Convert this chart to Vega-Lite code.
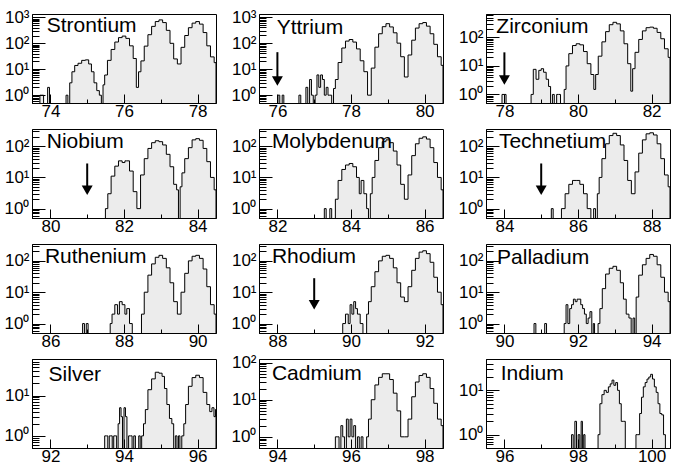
{
"$schema": "https://vega.github.io/schema/vega-lite/v6.json",
"padding": {"left": 3, "top": 5, "right": 0, "bottom": 0},
"data": {"values": [
{"e":"Sr","k":"d","x":73.5,"y":1350},{"e":"Sr","k":"d","x":78.5,"y":1350},
{"e":"Y","k":"d","x":75.5,"y":1320},{"e":"Y","k":"d","x":80.5,"y":1320},
{"e":"Zr","k":"d","x":77.5,"y":665},{"e":"Zr","k":"d","x":82.5,"y":665},
{"e":"Nb","k":"d","x":79.5,"y":357},{"e":"Nb","k":"d","x":84.5,"y":357},
{"e":"Mo","k":"d","x":81.5,"y":357},{"e":"Mo","k":"d","x":86.5,"y":357},
{"e":"Tc","k":"d","x":83.5,"y":357},{"e":"Tc","k":"d","x":88.5,"y":357},
{"e":"Ru","k":"d","x":85.5,"y":345},{"e":"Ru","k":"d","x":90.5,"y":345},
{"e":"Rh","k":"d","x":87.5,"y":345},{"e":"Rh","k":"d","x":92.5,"y":345},
{"e":"Pd","k":"d","x":89.5,"y":345},{"e":"Pd","k":"d","x":94.5,"y":345},
{"e":"Ag","k":"d","x":91.5,"y":81},{"e":"Ag","k":"d","x":96.5,"y":81},
{"e":"Cd","k":"d","x":93.5,"y":125},{"e":"Cd","k":"d","x":98.5,"y":125},
{"e":"In","k":"d","x":95.5,"y":51},{"e":"In","k":"d","x":100.5,"y":51},
{"e":"Sr","k":"t","x":73.9,"y":268,"n":"Strontium"},
{"e":"Y","k":"t","x":75.98,"y":234,"n":"Yttrium"},
{"e":"Zr","k":"t","x":77.78,"y":148,"n":"Zirconium"},
{"e":"Nb","k":"t","x":79.9,"y":91,"n":"Niobium"},
{"e":"Mo","k":"t","x":81.85,"y":91,"n":"Molybdenum"},
{"e":"Tc","k":"t","x":83.85,"y":91,"n":"Technetium"},
{"e":"Ru","k":"t","x":85.85,"y":85,"n":"Ruthenium"},
{"e":"Rh","k":"t","x":87.85,"y":85,"n":"Rhodium"},
{"e":"Pd","k":"t","x":89.8,"y":79,"n":"Palladium"},
{"e":"Ag","k":"t","x":91.95,"y":23,"n":"Silver"},
{"e":"Cd","k":"t","x":93.85,"y":34,"n":"Cadmium"},
{"e":"In","k":"t","x":95.9,"y":17,"n":"Indium"},
{"e":"Y","k":"a","x":76,"y":45,"y2":3.5},
{"e":"Zr","k":"a","x":78,"y":30,"y2":3.2},
{"e":"Nb","k":"a","x":81,"y":28,"y2":3.9},
{"e":"Tc","k":"a","x":85,"y":28,"y2":3.9},
{"e":"Rh","k":"a","x":89,"y":28,"y2":4},
{"e":"Sr","k":"h","x":73.69,"y":0.1},{"e":"Sr","k":"h","x":73.74,"y":1},{"e":"Sr","k":"h","x":73.79,"y":1},{"e":"Sr","k":"h","x":73.84,"y":0.1},{"e":"Sr","k":"h","x":73.9,"y":0.1},{"e":"Sr","k":"h","x":73.95,"y":2},{"e":"Sr","k":"h","x":74.0,"y":0.1},{"e":"Sr","k":"h","x":74.4,"y":0.1},{"e":"Sr","k":"h","x":74.45,"y":1},{"e":"Sr","k":"h","x":74.5,"y":0.1},
{"e":"Sr","k":"h","x":74.55,"y":3},{"e":"Sr","k":"h","x":74.62,"y":8},{"e":"Sr","k":"h","x":74.7,"y":14},{"e":"Sr","k":"h","x":74.8,"y":17},{"e":"Sr","k":"h","x":74.9,"y":22},{"e":"Sr","k":"h","x":75.0,"y":23},{"e":"Sr","k":"h","x":75.08,"y":16},{"e":"Sr","k":"h","x":75.15,"y":8},{"e":"Sr","k":"h","x":75.22,"y":3},{"e":"Sr","k":"h","x":75.3,"y":1.5},{"e":"Sr","k":"h","x":75.36,"y":1},{"e":"Sr","k":"h","x":75.41,"y":0.1},
{"e":"Sr","k":"h","x":75.45,"y":2.5},{"e":"Sr","k":"h","x":75.5,"y":6},{"e":"Sr","k":"h","x":75.6,"y":22},{"e":"Sr","k":"h","x":75.7,"y":58},{"e":"Sr","k":"h","x":75.8,"y":112},{"e":"Sr","k":"h","x":75.9,"y":166},{"e":"Sr","k":"h","x":76.0,"y":190},{"e":"Sr","k":"h","x":76.1,"y":155},{"e":"Sr","k":"h","x":76.2,"y":80},{"e":"Sr","k":"h","x":76.3,"y":26},{"e":"Sr","k":"h","x":76.37,"y":2},{"e":"Sr","k":"h","x":76.42,"y":8},{"e":"Sr","k":"h","x":76.5,"y":21},{"e":"Sr","k":"h","x":76.6,"y":78},{"e":"Sr","k":"h","x":76.7,"y":215},{"e":"Sr","k":"h","x":76.8,"y":450},{"e":"Sr","k":"h","x":76.9,"y":690},{"e":"Sr","k":"h","x":77.0,"y":800},{"e":"Sr","k":"h","x":77.1,"y":630},{"e":"Sr","k":"h","x":77.2,"y":316},{"e":"Sr","k":"h","x":77.3,"y":100},{"e":"Sr","k":"h","x":77.4,"y":25},{"e":"Sr","k":"h","x":77.5,"y":16},{"e":"Sr","k":"h","x":77.6,"y":70},{"e":"Sr","k":"h","x":77.7,"y":200},{"e":"Sr","k":"h","x":77.8,"y":400},{"e":"Sr","k":"h","x":77.9,"y":600},{"e":"Sr","k":"h","x":78.0,"y":690},{"e":"Sr","k":"h","x":78.1,"y":550},{"e":"Sr","k":"h","x":78.2,"y":260},{"e":"Sr","k":"h","x":78.3,"y":80},{"e":"Sr","k":"h","x":78.4,"y":30},{"e":"Sr","k":"h","x":78.5,"y":18},
{"e":"Y","k":"h","x":75.99,"y":0.1},{"e":"Y","k":"h","x":76.04,"y":1},{"e":"Y","k":"h","x":76.09,"y":0.1},{"e":"Y","k":"h","x":76.11,"y":0.1},{"e":"Y","k":"h","x":76.15,"y":1},{"e":"Y","k":"h","x":76.2,"y":0.1},{"e":"Y","k":"h","x":76.56,"y":0.1},{"e":"Y","k":"h","x":76.61,"y":1},{"e":"Y","k":"h","x":76.66,"y":0.1},
{"e":"Y","k":"h","x":76.75,"y":0.1},{"e":"Y","k":"h","x":76.8,"y":2},{"e":"Y","k":"h","x":76.85,"y":0.1},{"e":"Y","k":"h","x":76.9,"y":4},{"e":"Y","k":"h","x":76.95,"y":1},{"e":"Y","k":"h","x":77.0,"y":0.1},{"e":"Y","k":"h","x":77.05,"y":1},{"e":"Y","k":"h","x":77.1,"y":6},{"e":"Y","k":"h","x":77.15,"y":2},{"e":"Y","k":"h","x":77.2,"y":6},{"e":"Y","k":"h","x":77.25,"y":4},{"e":"Y","k":"h","x":77.3,"y":1},{"e":"Y","k":"h","x":77.35,"y":2},{"e":"Y","k":"h","x":77.4,"y":1},{"e":"Y","k":"h","x":77.45,"y":1},{"e":"Y","k":"h","x":77.5,"y":0.1},
{"e":"Y","k":"h","x":77.55,"y":1.8},{"e":"Y","k":"h","x":77.6,"y":4},{"e":"Y","k":"h","x":77.7,"y":18},{"e":"Y","k":"h","x":77.8,"y":65},{"e":"Y","k":"h","x":77.9,"y":120},{"e":"Y","k":"h","x":78.0,"y":138},{"e":"Y","k":"h","x":78.1,"y":110},{"e":"Y","k":"h","x":78.2,"y":60},{"e":"Y","k":"h","x":78.3,"y":21},{"e":"Y","k":"h","x":78.4,"y":8},{"e":"Y","k":"h","x":78.5,"y":1},{"e":"Y","k":"h","x":78.6,"y":11},{"e":"Y","k":"h","x":78.7,"y":70},{"e":"Y","k":"h","x":78.8,"y":230},{"e":"Y","k":"h","x":78.9,"y":430},{"e":"Y","k":"h","x":79.0,"y":560},{"e":"Y","k":"h","x":79.1,"y":420},{"e":"Y","k":"h","x":79.2,"y":250},{"e":"Y","k":"h","x":79.3,"y":100},{"e":"Y","k":"h","x":79.4,"y":30},{"e":"Y","k":"h","x":79.5,"y":5},{"e":"Y","k":"h","x":79.6,"y":35},{"e":"Y","k":"h","x":79.7,"y":130},{"e":"Y","k":"h","x":79.8,"y":380},{"e":"Y","k":"h","x":79.9,"y":560},{"e":"Y","k":"h","x":80.0,"y":620},{"e":"Y","k":"h","x":80.1,"y":450},{"e":"Y","k":"h","x":80.2,"y":230},{"e":"Y","k":"h","x":80.3,"y":90},{"e":"Y","k":"h","x":80.4,"y":30},{"e":"Y","k":"h","x":80.5,"y":14},
{"e":"Zr","k":"h","x":77.91,"y":0.1},{"e":"Zr","k":"h","x":77.96,"y":1},{"e":"Zr","k":"h","x":78.02,"y":1},{"e":"Zr","k":"h","x":78.07,"y":0.1},
{"e":"Zr","k":"h","x":78.7,"y":0.1},{"e":"Zr","k":"h","x":78.75,"y":1},{"e":"Zr","k":"h","x":78.82,"y":7.6},{"e":"Zr","k":"h","x":78.9,"y":3.4},{"e":"Zr","k":"h","x":78.97,"y":7},{"e":"Zr","k":"h","x":79.03,"y":8},{"e":"Zr","k":"h","x":79.1,"y":6},{"e":"Zr","k":"h","x":79.17,"y":3.4},{"e":"Zr","k":"h","x":79.23,"y":1.9},{"e":"Zr","k":"h","x":79.28,"y":0.1},{"e":"Zr","k":"h","x":79.33,"y":1},{"e":"Zr","k":"h","x":79.38,"y":0.1},{"e":"Zr","k":"h","x":79.4,"y":0.1},{"e":"Zr","k":"h","x":79.44,"y":1},{"e":"Zr","k":"h","x":79.5,"y":1},{"e":"Zr","k":"h","x":79.55,"y":0.1},
{"e":"Zr","k":"h","x":79.6,"y":0.1},{"e":"Zr","k":"h","x":79.65,"y":1.5},{"e":"Zr","k":"h","x":79.7,"y":10},{"e":"Zr","k":"h","x":79.8,"y":27},{"e":"Zr","k":"h","x":79.9,"y":52},{"e":"Zr","k":"h","x":80.0,"y":60},{"e":"Zr","k":"h","x":80.1,"y":55},{"e":"Zr","k":"h","x":80.2,"y":32},{"e":"Zr","k":"h","x":80.3,"y":12},{"e":"Zr","k":"h","x":80.4,"y":5},{"e":"Zr","k":"h","x":80.46,"y":1.5},{"e":"Zr","k":"h","x":80.5,"y":5},{"e":"Zr","k":"h","x":80.6,"y":22},{"e":"Zr","k":"h","x":80.7,"y":70},{"e":"Zr","k":"h","x":80.8,"y":160},{"e":"Zr","k":"h","x":80.9,"y":280},{"e":"Zr","k":"h","x":81.0,"y":340},{"e":"Zr","k":"h","x":81.1,"y":300},{"e":"Zr","k":"h","x":81.2,"y":170},{"e":"Zr","k":"h","x":81.3,"y":60},{"e":"Zr","k":"h","x":81.4,"y":12},{"e":"Zr","k":"h","x":81.47,"y":1.3},{"e":"Zr","k":"h","x":81.5,"y":8},{"e":"Zr","k":"h","x":81.6,"y":30},{"e":"Zr","k":"h","x":81.7,"y":85},{"e":"Zr","k":"h","x":81.8,"y":170},{"e":"Zr","k":"h","x":81.9,"y":220},{"e":"Zr","k":"h","x":82.0,"y":230},{"e":"Zr","k":"h","x":82.1,"y":210},{"e":"Zr","k":"h","x":82.2,"y":150},{"e":"Zr","k":"h","x":82.3,"y":90},{"e":"Zr","k":"h","x":82.4,"y":40},{"e":"Zr","k":"h","x":82.5,"y":20},
{"e":"Nb","k":"h","x":81.47,"y":0.1},{"e":"Nb","k":"h","x":81.52,"y":1},{"e":"Nb","k":"h","x":81.6,"y":3},{"e":"Nb","k":"h","x":81.7,"y":11},{"e":"Nb","k":"h","x":81.8,"y":23},{"e":"Nb","k":"h","x":81.9,"y":34},{"e":"Nb","k":"h","x":82.0,"y":30},{"e":"Nb","k":"h","x":82.05,"y":34},{"e":"Nb","k":"h","x":82.1,"y":34},{"e":"Nb","k":"h","x":82.2,"y":16},{"e":"Nb","k":"h","x":82.3,"y":3.5},{"e":"Nb","k":"h","x":82.4,"y":1},{"e":"Nb","k":"h","x":82.5,"y":12},{"e":"Nb","k":"h","x":82.6,"y":40},{"e":"Nb","k":"h","x":82.7,"y":85},{"e":"Nb","k":"h","x":82.8,"y":130},{"e":"Nb","k":"h","x":82.9,"y":150},{"e":"Nb","k":"h","x":83.0,"y":140},{"e":"Nb","k":"h","x":83.1,"y":110},{"e":"Nb","k":"h","x":83.2,"y":55},{"e":"Nb","k":"h","x":83.3,"y":22},{"e":"Nb","k":"h","x":83.4,"y":6},{"e":"Nb","k":"h","x":83.46,"y":4},{"e":"Nb","k":"h","x":83.5,"y":0.1},{"e":"Nb","k":"h","x":83.55,"y":5},{"e":"Nb","k":"h","x":83.6,"y":14},{"e":"Nb","k":"h","x":83.7,"y":40},{"e":"Nb","k":"h","x":83.8,"y":90},{"e":"Nb","k":"h","x":83.9,"y":160},{"e":"Nb","k":"h","x":84.0,"y":175},{"e":"Nb","k":"h","x":84.1,"y":155},{"e":"Nb","k":"h","x":84.2,"y":85},{"e":"Nb","k":"h","x":84.3,"y":32},{"e":"Nb","k":"h","x":84.4,"y":10},{"e":"Nb","k":"h","x":84.5,"y":4},
{"e":"Mo","k":"h","x":83.25,"y":0.1},{"e":"Mo","k":"h","x":83.3,"y":1},{"e":"Mo","k":"h","x":83.35,"y":0.1},{"e":"Mo","k":"h","x":83.4,"y":0.1},{"e":"Mo","k":"h","x":83.45,"y":1},{"e":"Mo","k":"h","x":83.5,"y":0.1},
{"e":"Mo","k":"h","x":83.55,"y":0.1},{"e":"Mo","k":"h","x":83.6,"y":2},{"e":"Mo","k":"h","x":83.7,"y":8},{"e":"Mo","k":"h","x":83.8,"y":18},{"e":"Mo","k":"h","x":83.9,"y":25},{"e":"Mo","k":"h","x":84.0,"y":28},{"e":"Mo","k":"h","x":84.1,"y":22},{"e":"Mo","k":"h","x":84.2,"y":10},{"e":"Mo","k":"h","x":84.25,"y":3},{"e":"Mo","k":"h","x":84.3,"y":8},{"e":"Mo","k":"h","x":84.4,"y":3},{"e":"Mo","k":"h","x":84.45,"y":1},{"e":"Mo","k":"h","x":84.5,"y":0.1},{"e":"Mo","k":"h","x":84.55,"y":3},{"e":"Mo","k":"h","x":84.6,"y":10},{"e":"Mo","k":"h","x":84.7,"y":35},{"e":"Mo","k":"h","x":84.8,"y":90},{"e":"Mo","k":"h","x":84.9,"y":140},{"e":"Mo","k":"h","x":85.0,"y":160},{"e":"Mo","k":"h","x":85.1,"y":130},{"e":"Mo","k":"h","x":85.2,"y":70},{"e":"Mo","k":"h","x":85.3,"y":25},{"e":"Mo","k":"h","x":85.4,"y":6},{"e":"Mo","k":"h","x":85.5,"y":2},{"e":"Mo","k":"h","x":85.6,"y":12},{"e":"Mo","k":"h","x":85.7,"y":50},{"e":"Mo","k":"h","x":85.8,"y":120},{"e":"Mo","k":"h","x":85.9,"y":180},{"e":"Mo","k":"h","x":86.0,"y":200},{"e":"Mo","k":"h","x":86.1,"y":170},{"e":"Mo","k":"h","x":86.2,"y":90},{"e":"Mo","k":"h","x":86.3,"y":30},{"e":"Mo","k":"h","x":86.4,"y":10},{"e":"Mo","k":"h","x":86.5,"y":4},
{"e":"Tc","k":"h","x":85.25,"y":0.1},{"e":"Tc","k":"h","x":85.3,"y":1},{"e":"Tc","k":"h","x":85.35,"y":0.1},
{"e":"Tc","k":"h","x":85.5,"y":0.1},{"e":"Tc","k":"h","x":85.6,"y":1},{"e":"Tc","k":"h","x":85.7,"y":3},{"e":"Tc","k":"h","x":85.8,"y":6},{"e":"Tc","k":"h","x":85.9,"y":8},{"e":"Tc","k":"h","x":86.0,"y":8},{"e":"Tc","k":"h","x":86.1,"y":6},{"e":"Tc","k":"h","x":86.2,"y":3},{"e":"Tc","k":"h","x":86.3,"y":1},{"e":"Tc","k":"h","x":86.4,"y":0.1},{"e":"Tc","k":"h","x":86.45,"y":1},{"e":"Tc","k":"h","x":86.5,"y":0.1},
{"e":"Tc","k":"h","x":86.55,"y":3},{"e":"Tc","k":"h","x":86.6,"y":10},{"e":"Tc","k":"h","x":86.7,"y":40},{"e":"Tc","k":"h","x":86.8,"y":120},{"e":"Tc","k":"h","x":86.9,"y":220},{"e":"Tc","k":"h","x":87.0,"y":260},{"e":"Tc","k":"h","x":87.1,"y":220},{"e":"Tc","k":"h","x":87.2,"y":110},{"e":"Tc","k":"h","x":87.3,"y":35},{"e":"Tc","k":"h","x":87.4,"y":8},{"e":"Tc","k":"h","x":87.5,"y":3},{"e":"Tc","k":"h","x":87.6,"y":15},{"e":"Tc","k":"h","x":87.7,"y":60},{"e":"Tc","k":"h","x":87.8,"y":160},{"e":"Tc","k":"h","x":87.9,"y":250},{"e":"Tc","k":"h","x":88.0,"y":270},{"e":"Tc","k":"h","x":88.1,"y":230},{"e":"Tc","k":"h","x":88.2,"y":120},{"e":"Tc","k":"h","x":88.3,"y":40},{"e":"Tc","k":"h","x":88.4,"y":12},{"e":"Tc","k":"h","x":88.5,"y":5},
{"e":"Ru","k":"h","x":86.85,"y":0.1},{"e":"Ru","k":"h","x":86.9,"y":1},{"e":"Ru","k":"h","x":86.95,"y":0.1},{"e":"Ru","k":"h","x":87.0,"y":1},{"e":"Ru","k":"h","x":87.05,"y":0.1},
{"e":"Ru","k":"h","x":87.6,"y":0.1},{"e":"Ru","k":"h","x":87.65,"y":1},{"e":"Ru","k":"h","x":87.7,"y":2},{"e":"Ru","k":"h","x":87.8,"y":4},{"e":"Ru","k":"h","x":87.85,"y":2},{"e":"Ru","k":"h","x":87.9,"y":5},{"e":"Ru","k":"h","x":88.0,"y":4},{"e":"Ru","k":"h","x":88.05,"y":2},{"e":"Ru","k":"h","x":88.1,"y":3},{"e":"Ru","k":"h","x":88.2,"y":1},{"e":"Ru","k":"h","x":88.25,"y":0.1},
{"e":"Ru","k":"h","x":88.45,"y":0.1},{"e":"Ru","k":"h","x":88.5,"y":2},{"e":"Ru","k":"h","x":88.6,"y":10},{"e":"Ru","k":"h","x":88.7,"y":35},{"e":"Ru","k":"h","x":88.8,"y":80},{"e":"Ru","k":"h","x":88.9,"y":130},{"e":"Ru","k":"h","x":89.0,"y":150},{"e":"Ru","k":"h","x":89.1,"y":120},{"e":"Ru","k":"h","x":89.2,"y":60},{"e":"Ru","k":"h","x":89.3,"y":20},{"e":"Ru","k":"h","x":89.4,"y":5},{"e":"Ru","k":"h","x":89.5,"y":2},{"e":"Ru","k":"h","x":89.6,"y":10},{"e":"Ru","k":"h","x":89.7,"y":40},{"e":"Ru","k":"h","x":89.8,"y":100},{"e":"Ru","k":"h","x":89.9,"y":140},{"e":"Ru","k":"h","x":90.0,"y":150},{"e":"Ru","k":"h","x":90.1,"y":120},{"e":"Ru","k":"h","x":90.2,"y":55},{"e":"Ru","k":"h","x":90.3,"y":15},{"e":"Ru","k":"h","x":90.4,"y":4},{"e":"Ru","k":"h","x":90.5,"y":2},
{"e":"Rh","k":"h","x":89.75,"y":0.1},{"e":"Rh","k":"h","x":89.8,"y":1},{"e":"Rh","k":"h","x":89.9,"y":2},{"e":"Rh","k":"h","x":89.95,"y":1},{"e":"Rh","k":"h","x":90.0,"y":4},{"e":"Rh","k":"h","x":90.05,"y":2},{"e":"Rh","k":"h","x":90.1,"y":5},{"e":"Rh","k":"h","x":90.15,"y":3},{"e":"Rh","k":"h","x":90.2,"y":2},{"e":"Rh","k":"h","x":90.3,"y":1},{"e":"Rh","k":"h","x":90.35,"y":0.1},
{"e":"Rh","k":"h","x":90.4,"y":0.1},{"e":"Rh","k":"h","x":90.45,"y":2},{"e":"Rh","k":"h","x":90.5,"y":5},{"e":"Rh","k":"h","x":90.6,"y":15},{"e":"Rh","k":"h","x":90.7,"y":45},{"e":"Rh","k":"h","x":90.8,"y":100},{"e":"Rh","k":"h","x":90.9,"y":140},{"e":"Rh","k":"h","x":91.0,"y":150},{"e":"Rh","k":"h","x":91.1,"y":120},{"e":"Rh","k":"h","x":91.2,"y":60},{"e":"Rh","k":"h","x":91.3,"y":20},{"e":"Rh","k":"h","x":91.4,"y":7},{"e":"Rh","k":"h","x":91.5,"y":5},{"e":"Rh","k":"h","x":91.6,"y":15},{"e":"Rh","k":"h","x":91.7,"y":50},{"e":"Rh","k":"h","x":91.8,"y":120},{"e":"Rh","k":"h","x":91.9,"y":190},{"e":"Rh","k":"h","x":92.0,"y":210},{"e":"Rh","k":"h","x":92.1,"y":170},{"e":"Rh","k":"h","x":92.2,"y":90},{"e":"Rh","k":"h","x":92.3,"y":30},{"e":"Rh","k":"h","x":92.4,"y":10},{"e":"Rh","k":"h","x":92.5,"y":4},
{"e":"Pd","k":"h","x":90.78,"y":0.1},{"e":"Pd","k":"h","x":90.83,"y":1},{"e":"Pd","k":"h","x":90.88,"y":0.1},{"e":"Pd","k":"h","x":91.07,"y":0.1},{"e":"Pd","k":"h","x":91.12,"y":1},{"e":"Pd","k":"h","x":91.17,"y":0.1},
{"e":"Pd","k":"h","x":91.6,"y":0.1},{"e":"Pd","k":"h","x":91.65,"y":1},{"e":"Pd","k":"h","x":91.7,"y":4},{"e":"Pd","k":"h","x":91.75,"y":1},{"e":"Pd","k":"h","x":91.8,"y":3},{"e":"Pd","k":"h","x":91.85,"y":4},{"e":"Pd","k":"h","x":91.9,"y":6},{"e":"Pd","k":"h","x":91.95,"y":5},{"e":"Pd","k":"h","x":92.0,"y":6},{"e":"Pd","k":"h","x":92.05,"y":6},{"e":"Pd","k":"h","x":92.1,"y":4},{"e":"Pd","k":"h","x":92.15,"y":3},{"e":"Pd","k":"h","x":92.2,"y":2},{"e":"Pd","k":"h","x":92.25,"y":1},{"e":"Pd","k":"h","x":92.3,"y":1.5},{"e":"Pd","k":"h","x":92.35,"y":2.4},{"e":"Pd","k":"h","x":92.4,"y":0.1},{"e":"Pd","k":"h","x":92.43,"y":1},{"e":"Pd","k":"h","x":92.47,"y":0.1},
{"e":"Pd","k":"h","x":92.52,"y":0.1},{"e":"Pd","k":"h","x":92.57,"y":1},{"e":"Pd","k":"h","x":92.62,"y":3},{"e":"Pd","k":"h","x":92.7,"y":13},{"e":"Pd","k":"h","x":92.8,"y":38},{"e":"Pd","k":"h","x":92.9,"y":58},{"e":"Pd","k":"h","x":93.0,"y":67},{"e":"Pd","k":"h","x":93.1,"y":50},{"e":"Pd","k":"h","x":93.2,"y":20},{"e":"Pd","k":"h","x":93.27,"y":6},{"e":"Pd","k":"h","x":93.35,"y":2},{"e":"Pd","k":"h","x":93.42,"y":1.5},{"e":"Pd","k":"h","x":93.47,"y":0.1},{"e":"Pd","k":"h","x":93.52,"y":1.5},{"e":"Pd","k":"h","x":93.56,"y":0.1},{"e":"Pd","k":"h","x":93.6,"y":7},{"e":"Pd","k":"h","x":93.7,"y":35},{"e":"Pd","k":"h","x":93.8,"y":75},{"e":"Pd","k":"h","x":93.9,"y":120},{"e":"Pd","k":"h","x":94.0,"y":160},{"e":"Pd","k":"h","x":94.1,"y":140},{"e":"Pd","k":"h","x":94.2,"y":75},{"e":"Pd","k":"h","x":94.3,"y":30},{"e":"Pd","k":"h","x":94.4,"y":10},{"e":"Pd","k":"h","x":94.5,"y":5},
{"e":"Ag","k":"h","x":93.45,"y":0.1},{"e":"Ag","k":"h","x":93.5,"y":1},{"e":"Ag","k":"h","x":93.54,"y":1},{"e":"Ag","k":"h","x":93.58,"y":0.1},{"e":"Ag","k":"h","x":93.62,"y":1},{"e":"Ag","k":"h","x":93.66,"y":1},{"e":"Ag","k":"h","x":93.7,"y":0.1},{"e":"Ag","k":"h","x":93.74,"y":1},{"e":"Ag","k":"h","x":93.78,"y":1},{"e":"Ag","k":"h","x":93.82,"y":0.1},{"e":"Ag","k":"h","x":93.86,"y":2},{"e":"Ag","k":"h","x":93.9,"y":5},{"e":"Ag","k":"h","x":93.94,"y":3},{"e":"Ag","k":"h","x":93.98,"y":0.1},{"e":"Ag","k":"h","x":94.02,"y":5},{"e":"Ag","k":"h","x":94.06,"y":3},{"e":"Ag","k":"h","x":94.1,"y":0.1},{"e":"Ag","k":"h","x":94.15,"y":1},{"e":"Ag","k":"h","x":94.2,"y":1},{"e":"Ag","k":"h","x":94.24,"y":0.1},{"e":"Ag","k":"h","x":94.29,"y":1},{"e":"Ag","k":"h","x":94.33,"y":0.1},{"e":"Ag","k":"h","x":94.38,"y":0.1},{"e":"Ag","k":"h","x":94.42,"y":1},{"e":"Ag","k":"h","x":94.46,"y":0.1},
{"e":"Ag","k":"h","x":94.5,"y":1},{"e":"Ag","k":"h","x":94.56,"y":2},{"e":"Ag","k":"h","x":94.6,"y":4.5},{"e":"Ag","k":"h","x":94.7,"y":14},{"e":"Ag","k":"h","x":94.8,"y":26},{"e":"Ag","k":"h","x":94.9,"y":38},{"e":"Ag","k":"h","x":95.0,"y":36},{"e":"Ag","k":"h","x":95.07,"y":30},{"e":"Ag","k":"h","x":95.13,"y":15},{"e":"Ag","k":"h","x":95.2,"y":6},{"e":"Ag","k":"h","x":95.27,"y":2.7},{"e":"Ag","k":"h","x":95.33,"y":2},{"e":"Ag","k":"h","x":95.37,"y":0.1},{"e":"Ag","k":"h","x":95.42,"y":1},{"e":"Ag","k":"h","x":95.46,"y":0.1},{"e":"Ag","k":"h","x":95.5,"y":1},{"e":"Ag","k":"h","x":95.54,"y":0.1},{"e":"Ag","k":"h","x":95.6,"y":1},{"e":"Ag","k":"h","x":95.65,"y":2},{"e":"Ag","k":"h","x":95.7,"y":6},{"e":"Ag","k":"h","x":95.8,"y":17},{"e":"Ag","k":"h","x":95.9,"y":28},{"e":"Ag","k":"h","x":96.0,"y":32},{"e":"Ag","k":"h","x":96.1,"y":28},{"e":"Ag","k":"h","x":96.2,"y":12},{"e":"Ag","k":"h","x":96.3,"y":6},{"e":"Ag","k":"h","x":96.36,"y":4},{"e":"Ag","k":"h","x":96.42,"y":5},{"e":"Ag","k":"h","x":96.47,"y":3},{"e":"Ag","k":"h","x":96.5,"y":4.5},
{"e":"Cd","k":"h","x":95.55,"y":0.1},{"e":"Cd","k":"h","x":95.6,"y":1},{"e":"Cd","k":"h","x":95.65,"y":1},{"e":"Cd","k":"h","x":95.7,"y":0.1},{"e":"Cd","k":"h","x":95.75,"y":2},{"e":"Cd","k":"h","x":95.8,"y":1},{"e":"Cd","k":"h","x":95.85,"y":0.1},{"e":"Cd","k":"h","x":95.9,"y":3},{"e":"Cd","k":"h","x":95.95,"y":1},{"e":"Cd","k":"h","x":96.0,"y":3},{"e":"Cd","k":"h","x":96.05,"y":1},{"e":"Cd","k":"h","x":96.1,"y":2},{"e":"Cd","k":"h","x":96.15,"y":0.1},{"e":"Cd","k":"h","x":96.2,"y":1},{"e":"Cd","k":"h","x":96.25,"y":0.1},{"e":"Cd","k":"h","x":96.3,"y":1},{"e":"Cd","k":"h","x":96.35,"y":0.1},
{"e":"Cd","k":"h","x":96.4,"y":0.1},{"e":"Cd","k":"h","x":96.45,"y":1},{"e":"Cd","k":"h","x":96.5,"y":3},{"e":"Cd","k":"h","x":96.6,"y":10},{"e":"Cd","k":"h","x":96.7,"y":25},{"e":"Cd","k":"h","x":96.8,"y":40},{"e":"Cd","k":"h","x":96.9,"y":50},{"e":"Cd","k":"h","x":97.0,"y":50},{"e":"Cd","k":"h","x":97.1,"y":35},{"e":"Cd","k":"h","x":97.2,"y":15},{"e":"Cd","k":"h","x":97.3,"y":5},{"e":"Cd","k":"h","x":97.4,"y":1},{"e":"Cd","k":"h","x":97.5,"y":1},{"e":"Cd","k":"h","x":97.6,"y":3},{"e":"Cd","k":"h","x":97.7,"y":12},{"e":"Cd","k":"h","x":97.8,"y":30},{"e":"Cd","k":"h","x":97.9,"y":45},{"e":"Cd","k":"h","x":98.0,"y":50},{"e":"Cd","k":"h","x":98.1,"y":40},{"e":"Cd","k":"h","x":98.2,"y":20},{"e":"Cd","k":"h","x":98.3,"y":8},{"e":"Cd","k":"h","x":98.4,"y":3},{"e":"Cd","k":"h","x":98.5,"y":2},
{"e":"In","k":"h","x":97.8,"y":0.1},{"e":"In","k":"h","x":97.85,"y":1},{"e":"In","k":"h","x":97.89,"y":0.1},{"e":"In","k":"h","x":97.94,"y":2},{"e":"In","k":"h","x":97.98,"y":0.1},{"e":"In","k":"h","x":98.03,"y":1},{"e":"In","k":"h","x":98.07,"y":0.1},{"e":"In","k":"h","x":98.1,"y":2},{"e":"In","k":"h","x":98.14,"y":0.1},{"e":"In","k":"h","x":98.17,"y":1},{"e":"In","k":"h","x":98.21,"y":0.1},
{"e":"In","k":"h","x":98.52,"y":0.1},{"e":"In","k":"h","x":98.57,"y":1},{"e":"In","k":"h","x":98.62,"y":5},{"e":"In","k":"h","x":98.68,"y":8},{"e":"In","k":"h","x":98.74,"y":10},{"e":"In","k":"h","x":98.8,"y":9},{"e":"In","k":"h","x":98.85,"y":12},{"e":"In","k":"h","x":98.9,"y":14},{"e":"In","k":"h","x":98.95,"y":17},{"e":"In","k":"h","x":99.0,"y":13},{"e":"In","k":"h","x":99.05,"y":15},{"e":"In","k":"h","x":99.1,"y":10},{"e":"In","k":"h","x":99.15,"y":5},{"e":"In","k":"h","x":99.2,"y":2},{"e":"In","k":"h","x":99.26,"y":2},{"e":"In","k":"h","x":99.31,"y":0.1},
{"e":"In","k":"h","x":99.55,"y":0.1},{"e":"In","k":"h","x":99.6,"y":1},{"e":"In","k":"h","x":99.65,"y":1},{"e":"In","k":"h","x":99.7,"y":3},{"e":"In","k":"h","x":99.75,"y":7},{"e":"In","k":"h","x":99.8,"y":12},{"e":"In","k":"h","x":99.85,"y":15},{"e":"In","k":"h","x":99.9,"y":18},{"e":"In","k":"h","x":99.95,"y":20},{"e":"In","k":"h","x":100.0,"y":23},{"e":"In","k":"h","x":100.05,"y":18},{"e":"In","k":"h","x":100.1,"y":12},{"e":"In","k":"h","x":100.15,"y":9},{"e":"In","k":"h","x":100.2,"y":5},{"e":"In","k":"h","x":100.25,"y":3},{"e":"In","k":"h","x":100.3,"y":2.8},{"e":"In","k":"h","x":100.35,"y":1},{"e":"In","k":"h","x":100.4,"y":0.1}
]},
"transform": [
  {"calculate": "indexof(['Sr','Y','Zr','Nb','Mo','Tc','Ru','Rh','Pd','Ag','Cd','In'], datum.e)", "as": "i"},
  {"calculate": "floor(datum.i / 3)", "as": "r"},
  {"calculate": "datum.i % 3", "as": "c"}
],
"facet": {
  "row": {"field": "r", "type": "ordinal", "header": null},
  "column": {"field": "c", "type": "ordinal", "header": null}
},
"bounds": "flush",
"spacing": {"row": 26, "column": 43},
"resolve": {"scale": {"x": "independent", "y": "independent"}},
"spec": {
  "width": 184,
  "height": 89,
  "layer": [
    {"transform": [{"filter": "datum.k == 'd'"}],
     "mark": {"type": "point", "opacity": 0},
     "encoding": {
       "x": {"field": "x", "type": "quantitative", "title": null,
             "scale": {"nice": false, "zero": false},
             "axis": {"values": [73,74,75,76,77,78,79,80,81,82,83,84,85,86,87,88,89,90,91,92,93,94,95,96,97,98,99,100,101],
                      "labelExpr": "datum.value % 2 == 0 ? datum.label : ''",
                      "tickSize": {"condition": {"test": "datum.value % 2 == 0", "value": -9}, "value": -4},
                      "labelPadding": 9, "labelFontSize": 17, "labelFont": "Liberation Sans", "labelColor": "black",
                      "tickColor": "black", "domainColor": "black", "grid": false, "labelOverlap": false, "labelFlush": false, "zindex": 1}},
       "y": {"field": "y", "type": "quantitative", "title": null,
             "scale": {"type": "log", "domainMin": 0.5, "nice": false},
             "axis": {"values": [0.5,0.6,0.7,0.8,0.9,1,2,3,4,5,6,7,8,9,10,20,30,40,50,60,70,80,90,100,200,300,400,500,600,700,800,900,1000,2000],
                      "labelExpr": "datum.value == 1 ? '10⁰' : datum.value == 10 ? '10¹' : datum.value == 100 ? '10²' : datum.value == 1000 ? '10³' : ''",
                      "tickSize": {"condition": {"test": "datum.value == 1 || datum.value == 10 || datum.value == 100 || datum.value == 1000", "value": -13}, "value": -7},
                      "labelPadding": 16, "labelFontSize": 17, "labelFont": "Liberation Sans", "labelColor": "black",
                      "tickColor": "black", "domainColor": "black", "grid": false, "labelOverlap": false, "labelFlush": false, "zindex": 1}}
     }},
    {"transform": [{"filter": "datum.k == 'h'"}],
     "mark": {"type": "area", "interpolate": "step", "fill": "#ececec", "fillOpacity": 1, "stroke": "black", "strokeWidth": 1, "clip": true},
     "encoding": {"x": {"field": "x", "type": "quantitative"}, "y": {"field": "y", "type": "quantitative"}, "y2": {"datum": 0.1}}},
    {"transform": [{"filter": "datum.k == 't'"}],
     "mark": {"type": "text", "align": "left", "baseline": "alphabetic", "font": "Liberation Sans", "fontSize": 21, "color": "black"},
     "encoding": {"x": {"field": "x", "type": "quantitative"}, "y": {"field": "y", "type": "quantitative"}, "text": {"field": "n"}}},
    {"transform": [{"filter": "datum.k == 'a'"}],
     "mark": {"type": "rule", "color": "black", "strokeWidth": 2},
     "encoding": {"x": {"field": "x", "type": "quantitative"}, "y": {"field": "y", "type": "quantitative"}, "y2": {"field": "y2"}}},
    {"transform": [{"filter": "datum.k == 'a'"}],
     "mark": {"type": "point", "shape": "triangle-down", "filled": true, "color": "black", "opacity": 1, "size": 120},
     "encoding": {"x": {"field": "x", "type": "quantitative"}, "y": {"field": "y2", "type": "quantitative"}}}
  ]
},
"config": {"view": {"stroke": "black", "strokeWidth": 1}}
}
